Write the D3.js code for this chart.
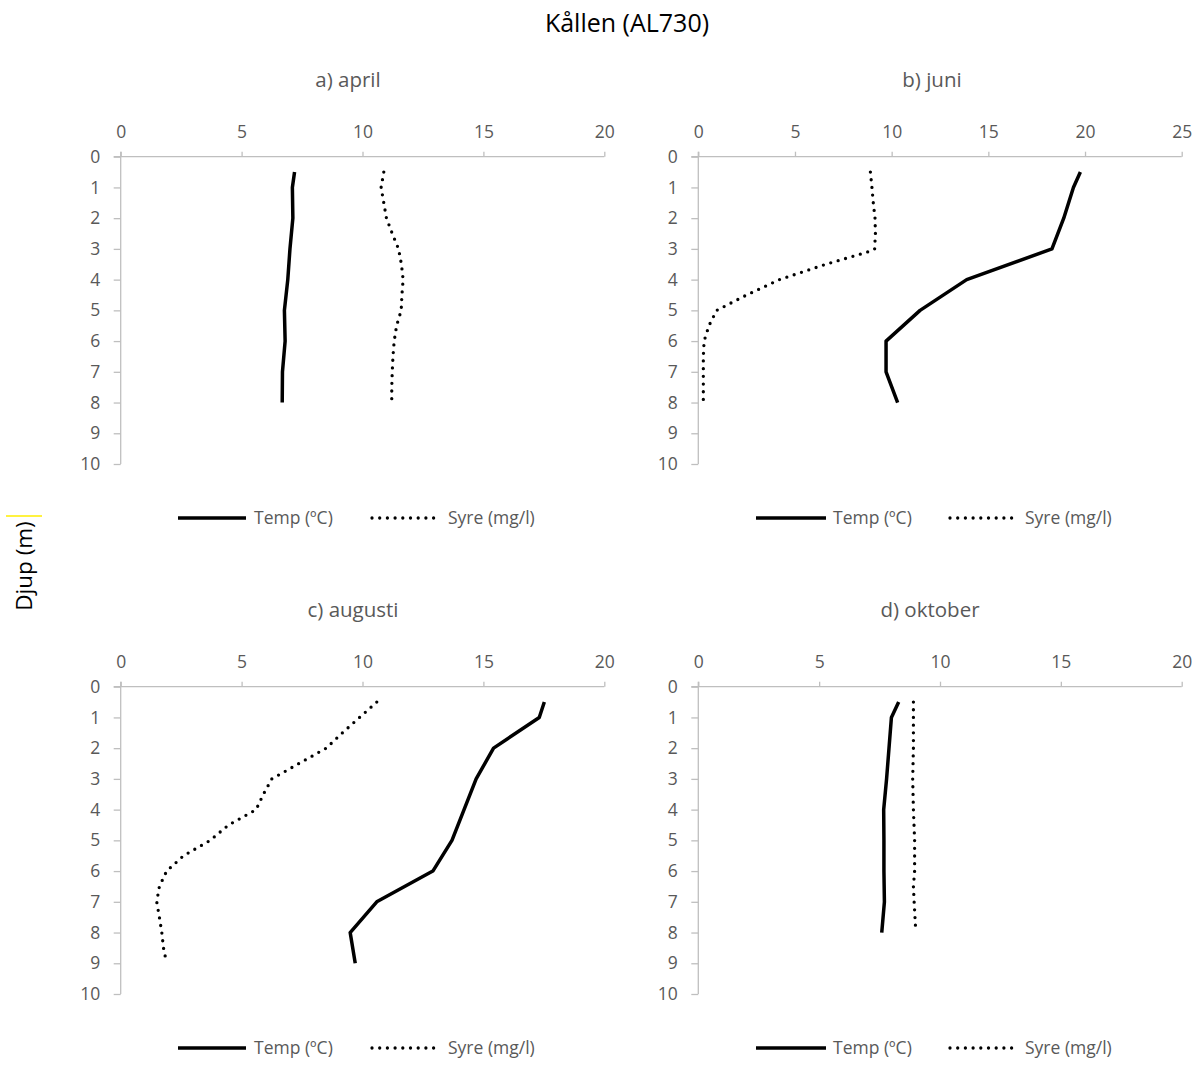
<!DOCTYPE html>
<html><head><meta charset="utf-8">
<script src="https://cdn.jsdelivr.net/npm/d3@7"></script>
<style>
body{margin:0;background:#fff;}
text{font-family:"Open Sans","Noto Sans",sans-serif;}
</style></head>
<body><svg id="c" width="1203" height="1070"></svg>
<script>
const title = "Kållen (AL730)";
const yLabel = "Djup (m)";
const panelTitles = ["a) april", "b) juni", "c) augusti", "d) oktober"];
const xMaxes = [20, 25, 20, 20];
const xTicks = [[0,5,10,15,20],[0,5,10,15,20,25],[0,5,10,15,20],[0,5,10,15,20]];
const depthTicks = [0,1,2,3,4,5,6,7,8,9,10];
const seriesNames = ["Temp (ºC)", "Syre (mg/l)"];

// April
const aprTempDepth = [0.5,1,2,3,4,5,6,7,8];
const aprTemp      = [7.19,7.1,7.12,7.0,6.91,6.77,6.8,6.69,6.68];
const aprSyreDepth = [0.5,1,1.5,2,2.5,3,3.5,4,4.5,5,5.5,6,6.5,7,7.5,8];
const aprSyre      = [10.88,10.77,10.88,10.99,11.23,11.49,11.61,11.68,11.63,11.6,11.41,11.31,11.26,11.23,11.21,11.21];
// Juni
const junTempDepth = [0.5,1,2,3,4,5,6,7,8];
const junTemp      = [19.76,19.4,18.9,18.29,13.88,11.47,9.71,9.71,10.31];
const junSyreDepth = [0.5,1,1.5,2,2.5,3,3.1,3.5,4,4.5,5,5.5,6,6.5,7,7.5,8];
const junSyre      = [8.9,8.98,9.05,9.14,9.16,9.12,8.76,6.6,4.2,2.5,0.95,0.55,0.3,0.26,0.26,0.26,0.26];
// Augusti
const augTempDepth = [0.5,1,2,3,4,5,6,7,8,9];
const augTemp      = [17.52,17.31,15.42,14.7,14.2,13.7,12.91,10.59,9.49,9.7];
const augSyreDepth = [0.5,1,1.5,2,2.5,3,3.5,4,4.5,5,5.5,6,6.5,7,7.5,8,8.5,9];
const augSyre      = [10.59,9.88,9.17,8.5,7.37,6.25,5.9,5.6,4.46,3.7,2.6,1.9,1.6,1.49,1.6,1.7,1.77,1.9];
// Oktober
const oktTempDepth = [0.5,1,2,3,4,5,6,7,8];
const oktTemp      = [8.29,7.99,7.89,7.79,7.67,7.68,7.68,7.7,7.59];
const oktSyreDepth = [0.5,1,2,3,4,5,6,6.5,7,8];
const oktSyre      = [8.9,8.9,8.9,8.87,8.9,8.95,8.95,8.9,8.93,9.0];

const panels = [
  {temp: aprTempDepth.map((d,i)=>[aprTemp[i],d]), syre: aprSyreDepth.map((d,i)=>[aprSyre[i],d])},
  {temp: junTempDepth.map((d,i)=>[junTemp[i],d]), syre: junSyreDepth.map((d,i)=>[junSyre[i],d])},
  {temp: augTempDepth.map((d,i)=>[augTemp[i],d]), syre: augSyreDepth.map((d,i)=>[augSyre[i],d])},
  {temp: oktTempDepth.map((d,i)=>[oktTemp[i],d]), syre: oktSyreDepth.map((d,i)=>[oktSyre[i],d])},
];

const layout = [
  {x0:120.7, x1:604.3, y0:156.7, y1:464, tx:348, ty:87, ly:518, leg:[178,246,254,372,434,448]},
  {x0:698.3, x1:1181.7, y0:156.7, y1:464, tx:932, ty:87, ly:518, leg:[756,826,833,950,1012,1025]},
  {x0:120.7, x1:604.3, y0:686.7, y1:994, tx:353, ty:617, ly:1048, leg:[178,246,254,372,434,448]},
  {x0:698.3, x1:1181.7, y0:686.7, y1:994, tx:930, ty:617, ly:1048, leg:[756,826,833,950,1012,1025]},
];

const svg = d3.select("#c");
const gray = "#595959", axisCol = "#bfbfbf";

svg.append("text").attr("x",627).attr("y",32).attr("text-anchor","middle")
  .attr("font-size",25).attr("fill","#000").text(title);

svg.append("line").attr("x1",6).attr("x2",42).attr("y1",516).attr("y2",516)
  .attr("stroke","#ffee00").attr("stroke-width",1.5);
svg.append("text").attr("transform","translate(32,566) rotate(-90)")
  .attr("text-anchor","middle").attr("font-size",22.5).attr("fill","#000").text(yLabel);

const dotStyle = s => s.attr("stroke","#000").attr("stroke-width",3.3)
  .attr("stroke-linecap","round").attr("stroke-dasharray","0 7.7").attr("fill","none");
const solidStyle = s => s.attr("stroke","#000").attr("stroke-width",3.5)
  .attr("stroke-linejoin","round").attr("fill","none");

panels.forEach((p,i)=>{
  const L = layout[i];
  const x = d3.scaleLinear().domain([0,xMaxes[i]]).range([L.x0,L.x1]);
  const y = d3.scaleLinear().domain([0,10]).range([L.y0,L.y1]);
  const g = svg.append("g");

  const xa = g.append("g").attr("transform",`translate(0,${L.y0})`)
    .call(d3.axisTop(x).tickValues(xTicks[i]).tickSize(5).tickPadding(13.4).tickFormat(d3.format("d")));
  const ya = g.append("g").attr("transform",`translate(${L.x0},0)`)
    .call(d3.axisLeft(y).tickValues(depthTicks).tickSize(7).tickPadding(13.5).tickFormat(d3.format("d")));
  [xa,ya].forEach(a=>{
    a.select(".domain").attr("stroke",axisCol).attr("stroke-width",1.3);
    a.selectAll(".tick line").attr("stroke",axisCol).attr("stroke-width",1.3);
    a.selectAll(".tick text").attr("fill",gray).attr("font-size",17.5)
      .attr("font-family",'"Open Sans","Noto Sans",sans-serif');
  });
  xa.select(".domain").attr("d",`M${L.x0-7},0H${L.x1}`);
  ya.select(".domain").attr("d",`M0,${L.y0-5}V${L.y1}`);

  g.append("text").attr("x",L.tx).attr("y",L.ty).attr("text-anchor","middle")
    .attr("font-size",20.5).attr("fill",gray).text(panelTitles[i]);

  const line = d3.line().x(d=>x(d[0])).y(d=>y(d[1]));
  g.append("path").datum(p.syre).attr("d",line).call(dotStyle);
  g.append("path").datum(p.temp).attr("d",line).call(solidStyle);

  // legend
  const lg = L.leg;
  g.append("line").attr("x1",lg[0]).attr("x2",lg[1]).attr("y1",L.ly).attr("y2",L.ly).call(solidStyle).attr("stroke-linecap","butt");
  g.append("text").attr("x",lg[2]).attr("y",L.ly+6).attr("font-size",17.5).attr("fill",gray).text(seriesNames[0]);
  g.append("line").attr("x1",lg[3]).attr("x2",lg[4]).attr("y1",L.ly).attr("y2",L.ly).call(dotStyle);
  g.append("text").attr("x",lg[5]).attr("y",L.ly+6).attr("font-size",17.5).attr("fill",gray).text(seriesNames[1]);
});
</script></body></html>
